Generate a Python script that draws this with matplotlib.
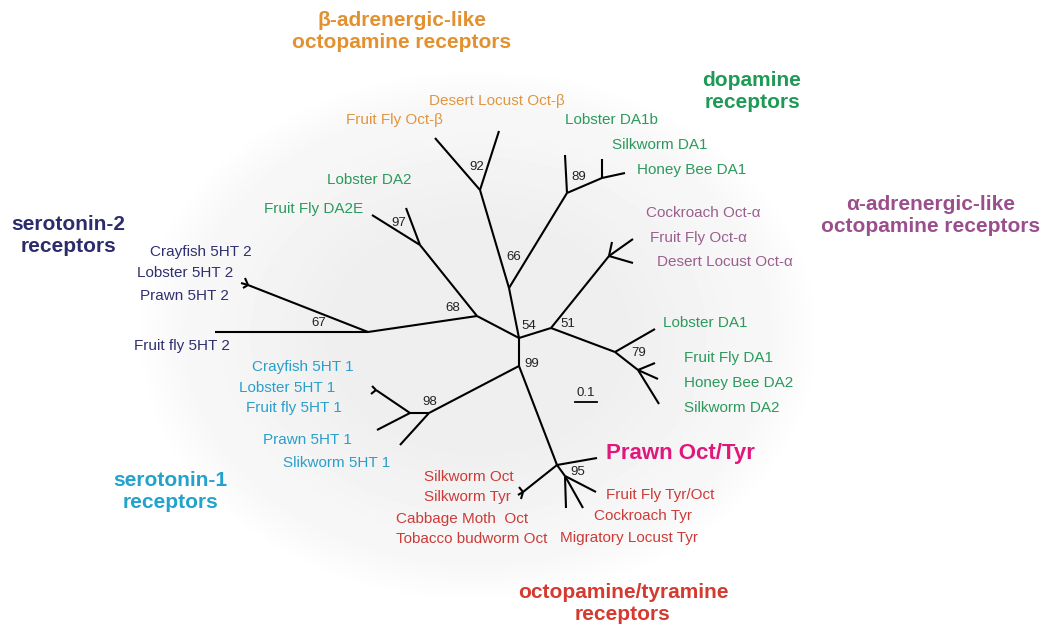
import numpy as np
import matplotlib
matplotlib.use('Agg')
import matplotlib.pyplot as plt

# tree nodes, picture coordinates (x to the right, y downwards)
node_names = ['n54', 'n99', 'n51', 'n68', 'n66', 'n92', 'ffob', 'dlob', 'n89', 'da1b', 'nsh',
              'swda1', 'hbda1', 'n97', 'lda2', 'ffda2e', 'nalpha', 'a1', 'a2', 'a3', 'n79', 'lda1',
              'nda1', 'ffda1', 'hbda2', 'swda2', 'n67', 'ff5ht2', 'n5ht2', 'c5ht2', 'l5ht2', 'p5ht2',
              'n98', 'n5ht1', 'n5ht1a', 'c5ht1', 'l5ht1', 'pr5ht1', 'sw5ht1', 'n95', 'prawn',
              'ntyr', 'fftyr', 'crtyr', 'mltyr', 'nsw', 'swo', 'swt', 'cbm']
node_x = [519, 519, 551, 477, 509, 480, 435, 499, 567, 565, 602,
          602, 625, 420, 406, 372, 609, 612, 633, 633, 615, 655,
          638, 655, 658, 659, 368, 215, 248, 245, 243, 241,
          429, 410, 376, 372, 371, 377, 400, 557, 597,
          565, 596, 583, 566, 523, 519, 518, 521]
node_y = [338, 366, 328, 316, 288, 190, 138, 131, 193, 155, 178,
          159, 173, 245, 208, 215, 256, 242, 239, 263, 352, 329,
          370, 363, 379, 404, 332, 332, 285, 278, 288, 283,
          413, 413, 390, 386, 394, 430, 445, 465, 458,
          476, 492, 508, 508, 492, 487, 495, 499]

edges = [('n54', 'n99'), ('n54', 'n51'), ('n54', 'n68'), ('n54', 'n66'),
         ('n66', 'n92'), ('n92', 'ffob'), ('n92', 'dlob'),
         ('n66', 'n89'), ('n89', 'da1b'), ('n89', 'nsh'), ('nsh', 'swda1'), ('nsh', 'hbda1'),
         ('n68', 'n97'), ('n97', 'lda2'), ('n97', 'ffda2e'),
         ('n68', 'n67'), ('n67', 'ff5ht2'), ('n67', 'n5ht2'),
         ('n5ht2', 'c5ht2'), ('n5ht2', 'l5ht2'), ('n5ht2', 'p5ht2'),
         ('n51', 'nalpha'), ('nalpha', 'a1'), ('nalpha', 'a2'), ('nalpha', 'a3'),
         ('n51', 'n79'), ('n79', 'lda1'), ('n79', 'nda1'),
         ('nda1', 'ffda1'), ('nda1', 'hbda2'), ('nda1', 'swda2'),
         ('n99', 'n98'), ('n98', 'n5ht1'), ('n98', 'sw5ht1'), ('n5ht1', 'n5ht1a'),
         ('n5ht1', 'pr5ht1'), ('n5ht1a', 'c5ht1'), ('n5ht1a', 'l5ht1'),
         ('n99', 'n95'), ('n95', 'prawn'), ('n95', 'ntyr'), ('n95', 'nsw'),
         ('ntyr', 'fftyr'), ('ntyr', 'crtyr'), ('ntyr', 'mltyr'),
         ('nsw', 'swo'), ('nsw', 'swt'), ('nsw', 'cbm')]

# bootstrap values
boot_vals = ['92', '89', '97', '66', '68', '67', '54', '51', '79', '99', '98', '95']
boot_x = [477, 579, 399, 514, 453, 319, 529, 568, 639, 532, 430, 578]
boot_y = [167, 177, 223, 257, 308, 323, 326, 324, 353, 364, 402, 472]

# leaf labels (left edge, centre line)
leaf_text = ['Desert Locust Oct-β', 'Fruit Fly Oct-β',
             'Lobster DA1b', 'Silkworm DA1', 'Honey Bee DA1', 'Lobster DA2', 'Fruit Fly DA2E',
             'Lobster DA1', 'Fruit Fly DA1', 'Honey Bee DA2', 'Silkworm DA2',
             'Cockroach Oct-α', 'Fruit Fly Oct-α', 'Desert Locust Oct-α',
             'Crayfish 5HT 2', 'Lobster 5HT 2', 'Prawn 5HT 2', 'Fruit fly 5HT 2',
             'Crayfish 5HT 1', 'Lobster 5HT 1', 'Fruit fly 5HT 1', 'Prawn 5HT 1', 'Slikworm 5HT 1',
             'Silkworm Oct', 'Silkworm Tyr', 'Cabbage Moth  Oct', 'Tobacco budworm Oct',
             'Fruit Fly Tyr/Oct', 'Cockroach Tyr', 'Migratory Locust Tyr']
leaf_x = [429, 346, 565, 612, 637, 327, 264, 663, 684, 684, 684, 646, 650, 657,
          150, 137, 140, 134, 252, 239, 246, 263, 283, 424, 424, 396, 396, 606, 594, 560]
leaf_y = [101, 120, 120, 145, 170, 180, 209, 323, 358, 383, 408, 213, 238, 262,
          252, 273, 296, 346, 367, 388, 408, 440, 463, 477, 497, 519, 539, 495, 516, 538]
leaf_group = ['beta', 'beta'] + ['da'] * 9 + ['alpha'] * 3 + ['s2'] * 4 + ['s1'] * 5 + ['ot'] * 7

group_colors = {'beta': '#e3902f', 'da': '#1f9a55', 'alpha': '#9a4f8c', 's2': '#2c2c6c',
                's1': '#22a2cd', 'ot': '#d43a30'}
leaf_colors = {'beta': '#e0953f', 'da': '#2b9a5c', 'alpha': '#9a5f8f', 's2': '#2f306f',
               's1': '#2a9fca', 'ot': '#cc3b38'}

# clade headings (centre)
head_text = ['β-adrenergic-like\noctopamine receptors', 'dopamine\nreceptors',
             'α-adrenergic-like\noctopamine receptors', 'serotonin-2\nreceptors',
             'serotonin-1\nreceptors', 'octopamine/tyramine\nreceptors']
head_x = [402, 752, 931, 68, 170, 623]
head_y = [31, 92, 216, 235, 491, 603]
head_group = ['beta', 'da', 'alpha', 's2', 's1', 'ot']

W, H = 1050, 638
fig = plt.figure(figsize=(W / 100, H / 100), dpi=100)
ax = fig.add_axes([0, 0, 1, 1])
ax.set_xlim(0, W)
ax.set_ylim(H, 0)
ax.axis('off')
plt.rcParams['font.family'] = ['Liberation Sans', 'DejaVu Sans']

# soft grey halo behind the tree
gx, gy = np.meshgrid(np.arange(W), np.arange(H))
r = np.sqrt(((gx - 478) / 345.0) ** 2 + ((gy - 335) / 270.0) ** 2)
shade = np.clip(1.0 - r, 0, 1)
val = 1.0 - 0.035 * np.clip(shade * 6, 0, 1) - 0.03 * np.clip((0.75 - r) * 3, 0, 1)
ax.imshow(val, cmap='gray', vmin=0, vmax=1, extent=(0, W, H, 0), zorder=0, interpolation='bilinear')

pos = {n: (x, y) for n, x, y in zip(node_names, node_x, node_y)}
for a, b in edges:
    ax.plot([pos[a][0], pos[b][0]], [pos[a][1], pos[b][1]], color='black', lw=1.5,
            solid_capstyle='butt', zorder=2)

for t, x, y in zip(boot_vals, boot_x, boot_y):
    ax.text(x, y, t, fontsize=9.5, ha='center', va='center', color='#222222', zorder=3)

ax.text(586, 393, '0.1', fontsize=9.5, ha='center', va='center', color='#222222')
ax.plot([575, 597], [402, 402], color='black', lw=1.3)

for t, x, y, g in zip(leaf_text, leaf_x, leaf_y, leaf_group):
    ax.text(x, y, t, fontsize=11, ha='left', va='center', color=leaf_colors[g], zorder=3)

ax.text(606, 453, 'Prawn Oct/Tyr', fontsize=16, fontweight='bold', ha='left', va='center',
        color='#e0187c')

for t, x, y, g in zip(head_text, head_x, head_y, head_group):
    ax.text(x, y, t, fontsize=15, fontweight='bold', ha='center', va='center',
            color=group_colors[g], linespacing=1.2)

fig.savefig('out.png', dpi=100)
